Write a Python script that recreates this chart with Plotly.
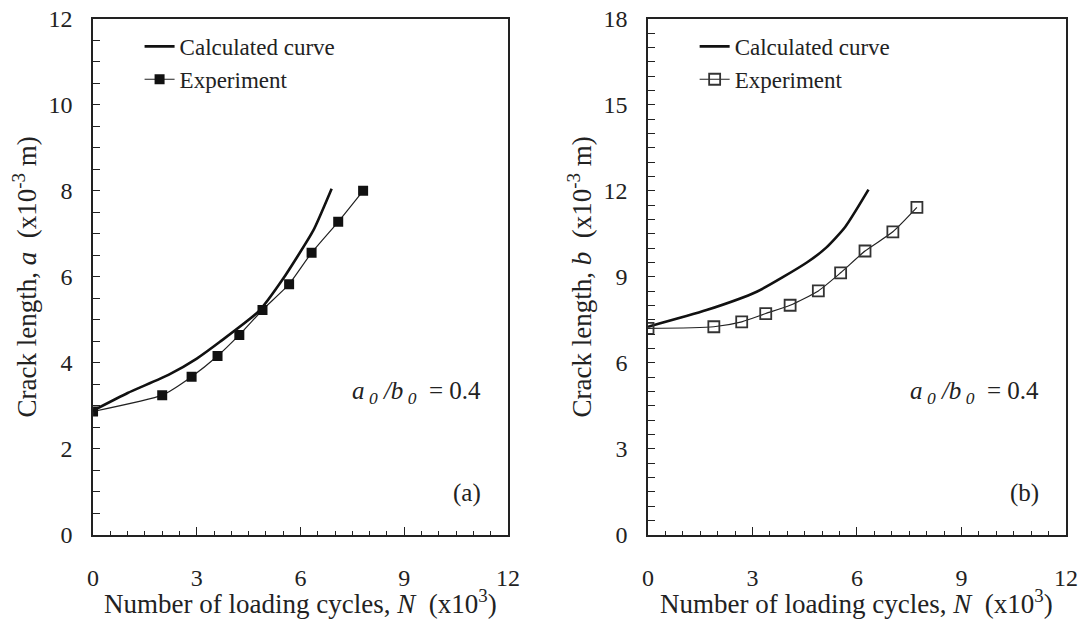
import plotly.graph_objects as go

# Panel (a)
calc_a_N = [0, 1.0, 2.18, 3.0, 3.67, 4.78, 5.5, 6.37, 6.9]
calc_a_val = [2.89, 3.3, 3.72, 4.1, 4.49, 5.19, 5.96, 7.08, 8.05]
exp_a_N = [0, 2.0, 2.85, 3.6, 4.23, 4.9, 5.67, 6.32, 7.09, 7.81]
exp_a_val = [2.87, 3.25, 3.68, 4.16, 4.65, 5.23, 5.83, 6.56, 7.28, 8.0]

# Panel (b)
calc_b_N = [0, 1.68, 3.12, 4.56, 5.1, 5.66, 6.33]
calc_b_val = [7.26, 7.84, 8.48, 9.5, 10.0, 10.74, 12.04]
exp_b_N = [0, 1.89, 2.69, 3.38, 4.08, 4.89, 5.53, 6.23, 7.03, 7.72]
exp_b_val = [7.2, 7.26, 7.43, 7.72, 8.01, 8.51, 9.14, 9.9, 10.57, 11.42]

x_ticks = [0, 3, 6, 9, 12]
ya_ticks = [0, 2, 4, 6, 8, 10, 12]
yb_ticks = [0, 3, 6, 9, 12, 15, 18]

FONT = "Liberation Serif"
DARK = "#222222"

fig = go.Figure()

fig.add_trace(go.Scatter(x=calc_a_N, y=calc_a_val, mode="lines", name="Calculated curve",
                         line=dict(color="#111111", width=2.6, shape="spline", smoothing=0.5),
                         xaxis="x", yaxis="y", legend="legend"))
fig.add_trace(go.Scatter(x=exp_a_N, y=exp_a_val, mode="lines+markers", name="Experiment",
                         line=dict(color="#222222", width=1.2, shape="spline", smoothing=0.5),
                         marker=dict(symbol="square", size=10, color="#111111"),
                         xaxis="x", yaxis="y", legend="legend"))
fig.add_trace(go.Scatter(x=calc_b_N, y=calc_b_val, mode="lines", name="Calculated curve",
                         line=dict(color="#111111", width=2.6, shape="spline", smoothing=0.6),
                         xaxis="x2", yaxis="y2", legend="legend2"))
fig.add_trace(go.Scatter(x=exp_b_N, y=exp_b_val, mode="lines+markers", name="Experiment",
                         line=dict(color="#222222", width=1.2, shape="spline", smoothing=0.6),
                         marker=dict(symbol="square-open", size=11, color="#333333",
                                     line=dict(width=1.8, color="#333333")),
                         xaxis="x2", yaxis="y2", legend="legend2"))

y0, y1 = 0.1413, 0.970

def xaxis(domain, anchor):
    return dict(domain=domain, anchor=anchor, range=[0, 12], tickvals=x_ticks,
                ticks="inside", ticklen=8, tickwidth=1.2, tickcolor=DARK,
                minor=dict(dtick=0.5, ticks="inside", ticklen=4, tickwidth=1, tickcolor=DARK),
                showline=True, linecolor=DARK, linewidth=1.6, mirror=True,
                showgrid=False, zeroline=False, ticklabelstandoff=20, automargin=False,
                tickfont=dict(family=FONT, size=24, color=DARK))

def yaxis(domain, anchor, rng, vals, title):
    return dict(domain=domain, anchor=anchor, range=rng, tickvals=vals,
                ticks="inside", ticklen=7, tickwidth=1.2, tickcolor=DARK,
                minor=dict(dtick=0.5, ticks="inside", ticklen=7, tickwidth=1, tickcolor=DARK),
                showline=True, linecolor=DARK, linewidth=1.6, mirror=True,
                showgrid=False, zeroline=False, ticklabelstandoff=14, automargin=False,
                tickfont=dict(family=FONT, size=24, color=DARK),
                title=dict(text=title, font=dict(family=FONT, size=27, color=DARK), standoff=4))

legend_common = dict(font=dict(family=FONT, size=23, color=DARK), bgcolor="rgba(0,0,0,0)",
                     tracegroupgap=0, itemwidth=30, xanchor="left", yanchor="top")

fig.update_layout(
    width=1082, height=623,
    font=dict(family=FONT, color=DARK),
    margin=dict(l=0, r=0, t=0, b=0, autoexpand=False),
    paper_bgcolor="white", plot_bgcolor="white",
    xaxis=xaxis([0.0860, 0.4695], "y"),
    yaxis=yaxis([y0, y1], "x", [0, 12], ya_ticks,
                "Crack length, <i>a</i>  (x10<sup>-3</sup> m)"),
    xaxis2=xaxis([0.5989, 0.9852], "y2"),
    yaxis2=yaxis([y0, y1], "x2", [0, 18], yb_ticks,
                 "Crack length, <i>b</i>  (x10<sup>-3</sup> m)"),
    legend=dict(x=0.129, y=0.96, **legend_common),
    legend2=dict(x=0.642, y=0.96, **legend_common),
    showlegend=True,
)

ann_font = dict(family=FONT, size=25, color=DARK)
xtitle = "Number of loading cycles, <i>N</i>  (x10<sup>3</sup>)"
ratio = "<i>a</i><sub><i> 0</i></sub><i> /b</i><sub><i> 0</i></sub>  = 0.4"
for xr, yr, lab in [("x domain", "y domain", "(a)"), ("x2 domain", "y2 domain", "(b)")]:
    fig.add_annotation(x=0.94, y=0.275, xref=xr, yref=yr, text=ratio, showarrow=False,
                       xanchor="right", yanchor="middle", font=ann_font)
    fig.add_annotation(x=0.94, y=0.081, xref=xr, yref=yr, text=lab, showarrow=False,
                       xanchor="right", yanchor="middle", font=ann_font)
    fig.add_annotation(x=0.5, y=0.034, xref=xr, yref="paper", text=xtitle, showarrow=False,
                       xanchor="center", yanchor="middle",
                       font=dict(family=FONT, size=27, color=DARK))

fig.write_html("out.html")
